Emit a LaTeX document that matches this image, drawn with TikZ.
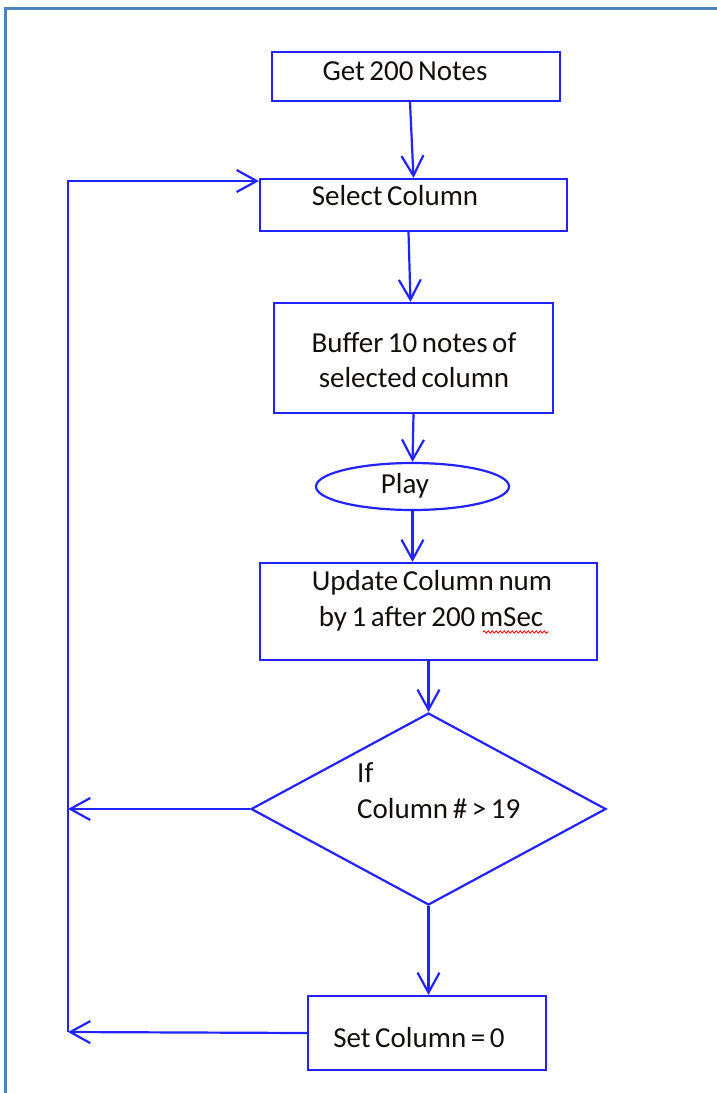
\documentclass[tikz,border=0pt]{standalone}
\usepackage{fontspec}
\setmainfont{Carlito}[WordSpace=0.7]
\usetikzlibrary{arrows.meta,shapes.geometric,decorations.pathmorphing}
\definecolor{fb}{RGB}{35,35,255}
\definecolor{framecol}{RGB}{79,129,189}
\definecolor{txt}{RGB}{20,15,10}
\begin{document}
\begin{tikzpicture}[x=1pt,y=-1pt,
  box/.style={draw=fb,line width=2.2pt,inner sep=0pt,fill=white},
  lbl/.style={font=\fontsize{29}{35}\selectfont,anchor=base,inner sep=0pt,text=txt},
  lblw/.style={lbl,anchor=base west},
  arr/.style={draw=fb,line width=2.2pt,-{Straight Barb[length=20pt,width=22pt]}}]
\useasboundingbox (0,0) rectangle (717,1093);
\fill[white] (0,0) rectangle (717,1093);
% frame
\draw[framecol,line width=3pt] (5,1100) -- (5,8) -- (725,8);
% boxes
\node[box,minimum width=288pt,minimum height=49pt] (get) at (416,76.5) {};
\node[lbl] (getT) at (405,80) {Get 200 Notes};
\node[box,minimum width=307pt,minimum height=52pt] (sel) at (413.5,205) {};
\node[lbl] (selT) at (395,205) {Select Column};
\node[box,minimum width=279pt,minimum height=110pt] (buf) at (413.5,358) {};
\node[lbl] (bufT1) at (414,352) {Buffer 10 notes of};
\node[lbl] (bufT2) at (414,387) {selected column};
\node[box,ellipse,minimum width=193pt,minimum height=47pt] (play) at (412.5,486.5) {};
\node[lbl] (playT) at (405,493) {Play};
\node[box,minimum width=337pt,minimum height=97pt] (upd) at (428.5,611.5) {};
\node[lbl] (updT1) at (432,590) {Update Column num};
\node[lbl] (updT2) at (431,626) {by 1 after 200 mSec};
\node[box,diamond,minimum width=355pt,minimum height=192pt] (dia) at (428.5,809) {};
\node[lblw] (diaT1) at (357,782) {If};
\node[lblw] (diaT2) at (357,818) {Column \# > 19};
\node[box,minimum width=238pt,minimum height=74pt] (set) at (427,1033) {};
\node[lbl] (setT) at (419,1047) {Set Column = 0};
% spell-check underline
\draw[red,line width=0.8pt,decorate,decoration={snake,amplitude=1.2pt,segment length=4pt}] (483,632) -- (549,632);
% loop coordinates
\coordinate (lb) at (68,1032);
\coordinate (lm) at (68,809);
\coordinate (lt) at (68,181);
% connectors
\draw[arr] ([xshift=-6pt]get.south) -- (sel.north);
\draw[arr] ([xshift=-5pt]sel.south) -- ([xshift=-3pt]buf.north);
\draw[arr] (buf.south) -- (play.north);
\draw[arr] (play.south) -- (play.south |- upd.north);
\draw[arr] (upd.south) -- (dia.north);
\draw[arr] (dia.south) -- (dia.south |- set.north);
\draw[arr] (dia.west) -- (lm);
\draw[arr] (set.west) -- (lb);
\draw[arr] (lb) -- (lt) -- (lt -| sel.west);
\end{tikzpicture}
\end{document}
